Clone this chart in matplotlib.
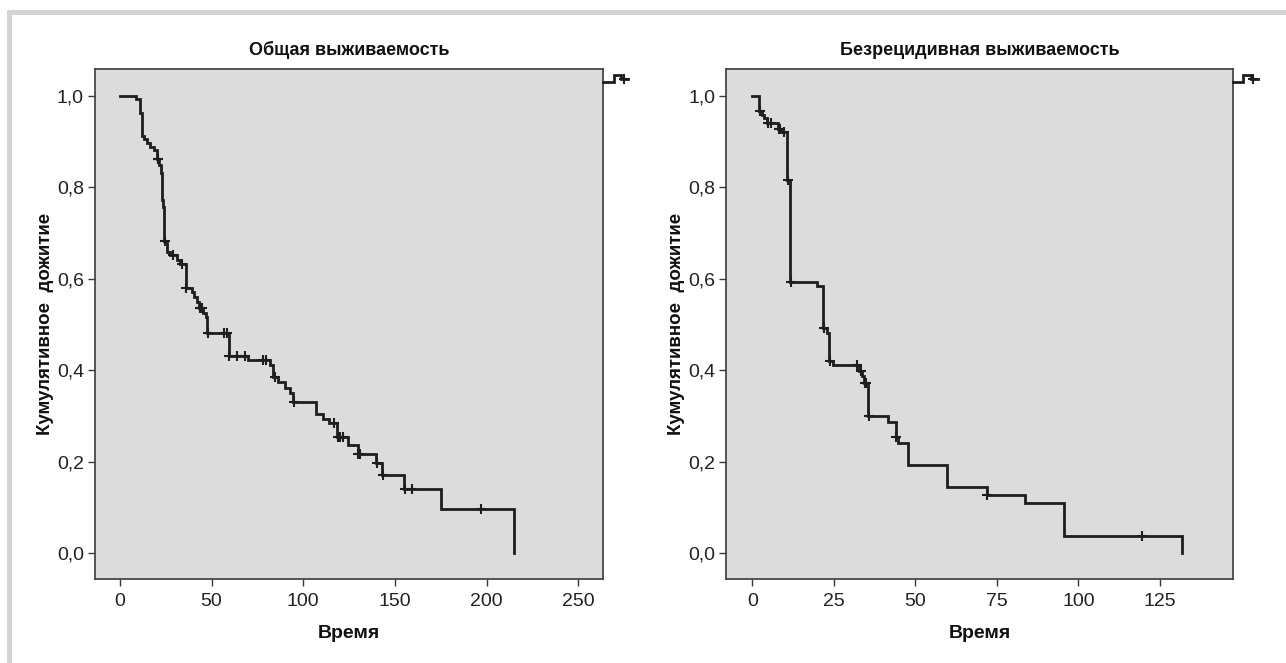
import numpy as np
import matplotlib
matplotlib.use("Agg")
from matplotlib import pyplot as plt
from matplotlib.lines import Line2D
from matplotlib.patches import Rectangle
from matplotlib.legend_handler import HandlerBase

plt.rcParams['font.family'] = ['Liberation Sans Narrow', 'DejaVu Sans Condensed',
                               'Liberation Sans', 'DejaVu Sans']

# --- data ---
os_times = [0, 8.7, 10.9, 12.2, 13.3, 14.5, 16.4, 18.7, 20.2, 21.5, 22.2, 23.0,
            23.6, 24.2, 25.8, 27.2, 31.3, 32.7, 36.0, 39.1, 40.4, 41.8, 43.1,
            45.5, 46.8, 47.7, 59.3, 70.0, 81.8, 83.6, 86.0, 90.0, 92.7, 94.5,
            106.9, 110.6, 114.2, 118.5, 124.5, 129.6, 139.5, 143.1, 155.0,
            175.0, 214.8]
os_surv = [1.0, 0.993, 0.961, 0.912, 0.904, 0.897, 0.888, 0.881, 0.862, 0.848,
           0.830, 0.772, 0.757, 0.681, 0.657, 0.651, 0.641, 0.631, 0.579, 0.571,
           0.559, 0.548, 0.536, 0.524, 0.517, 0.480, 0.431, 0.422, 0.411,
           0.385, 0.375, 0.360, 0.349, 0.331, 0.305, 0.292, 0.284, 0.253,
           0.236, 0.216, 0.196, 0.171, 0.141, 0.0955, 0.0]
os_censored = [20.5, 21.0, 24.4, 28.9, 33.7, 36.3, 43.5, 44.5, 48.0, 56.8, 58.2,
               59.6, 64.0, 68.0, 78.0, 79.8, 84.5, 94.8, 117.0, 119.0, 120.0,
               121.5, 130.0, 131.0, 140.0, 143.5, 155.5, 159.3, 197.0]

rfs_times = [0, 2.0, 2.9, 3.6, 4.4, 7.8, 9.0, 10.5, 11.6, 19.7, 21.8, 22.8,
             23.6, 24.8, 32.8, 33.5, 34.2, 35.6, 41.7, 44.0, 44.8, 47.8, 59.6,
             71.9, 83.6, 95.6, 131.8]
rfs_surv = [1.0, 0.967, 0.958, 0.950, 0.940, 0.927, 0.921, 0.816, 0.593, 0.583,
            0.491, 0.480, 0.420, 0.411, 0.398, 0.386, 0.371, 0.300, 0.287,
            0.254, 0.241, 0.192, 0.145, 0.127, 0.109, 0.037, 0.0]
rfs_censored = [2.3, 4.8, 5.6, 8.1, 8.5, 9.6, 11.0, 11.9, 22.0, 23.8, 32.0,
                33.2, 34.6, 35.0, 35.8, 44.2, 72.1, 119.5]

titles = ['Общая выживаемость', 'Безрецидивная выживаемость']
x_label = 'Время'
y_label = 'Кумулятивное  дожитие'
os_xticks = [0, 50, 100, 150, 200, 250]
rfs_xticks = [0, 25, 50, 75, 100, 125]
y_ticks = [0.0, 0.2, 0.4, 0.6, 0.8, 1.0]
y_tick_labels = ['0,0', '0,2', '0,4', '0,6', '0,8', '1,0']

LINE = '#1e1e1e'
FACE = '#dcdcdc'
SPINE = '#3a3a3a'


class StepHandler(HandlerBase):
    # small step line with a censor mark, like the SPSS legend sample
    def create_artists(self, legend, orig_handle, xdescent, ydescent,
                       width, height, fontsize, trans):
        xs = np.array([0, .42, .42, .72, .72, 1.0]) * width - xdescent
        ys = np.array([.2, .2, .75, .75, .45, .45]) * height - ydescent
        step = Line2D(xs, ys, color=LINE, lw=2, solid_joinstyle='miter')
        mark = Line2D([.82 * width - xdescent], [.45 * height - ydescent],
                      marker='+', ms=7, mew=1.5, color=LINE, ls='none')
        step.set_transform(trans)
        mark.set_transform(trans)
        return [step, mark]


def surv_at(times, surv, t):
    idx = np.searchsorted(times, t, side='right') - 1
    return np.asarray(surv)[idx]


fig = plt.figure(figsize=(12.86, 6.63), dpi=100)

# light grey frame (top and left edges of the original card)
fig.add_artist(Rectangle((7 / 1286, 0), 5 / 1286, 653 / 663, transform=fig.transFigure,
                         color='#d4d4d4', lw=0))
fig.add_artist(Rectangle((7 / 1286, 648 / 663), 1 - 7 / 1286, 5 / 663,
                         transform=fig.transFigure, color='#d4d4d4', lw=0))

ax1 = fig.add_axes([95 / 1286, 84.3 / 663, 508 / 1286, 509.7 / 663])
ax2 = fig.add_axes([726.2 / 1286, 84.3 / 663, 506.5 / 1286, 509.7 / 663])

panels = [
    (ax1, os_times, os_surv, os_censored, os_xticks, (-13.6, 263.5)),
    (ax2, rfs_times, rfs_surv, rfs_censored, rfs_xticks, (-8.0, 147.3)),
]

for i, (ax, t, s, cens, xt, xl) in enumerate(panels):
    ax.set_facecolor(FACE)
    ax.step(t, s, where='post', color=LINE, lw=2, solid_joinstyle='miter')
    ax.plot(cens, surv_at(t, s, cens), ls='none', marker='+', ms=7, mew=1.5,
            color=LINE)
    ax.set_xlim(*xl)
    ax.set_ylim(-0.056, 1.058)
    ax.set_xticks(xt)
    ax.set_yticks(y_ticks)
    ax.set_yticklabels(y_tick_labels)
    ax.tick_params(direction='out', length=5, width=1, color=SPINE,
                   labelsize=14, labelcolor='#222222')
    ax.tick_params(axis='x', pad=5)
    ax.tick_params(axis='y', pad=3)
    for sp in ax.spines.values():
        sp.set_color(SPINE)
        sp.set_linewidth(1.2)
    ax.set_title(titles[i], fontsize=13, fontweight='bold', pad=10, color='#111111')
    ax.set_xlabel(x_label, fontsize=14, fontweight='bold', labelpad=11, color='#111111')
    ax.set_ylabel(y_label, fontsize=13.5, fontweight='bold', labelpad=2, color='#111111')
    h = Line2D([], [], color=LINE)
    ax.legend(handles=[h], labels=[''], handler_map={Line2D: StepHandler()},
              loc='upper left', bbox_to_anchor=(1.0, 0.995), frameon=False,
              borderpad=0, borderaxespad=0, handlelength=1.4, handletextpad=0,
              handleheight=0.7, fontsize=13)

fig.savefig('out.png', dpi=100, facecolor='white')
